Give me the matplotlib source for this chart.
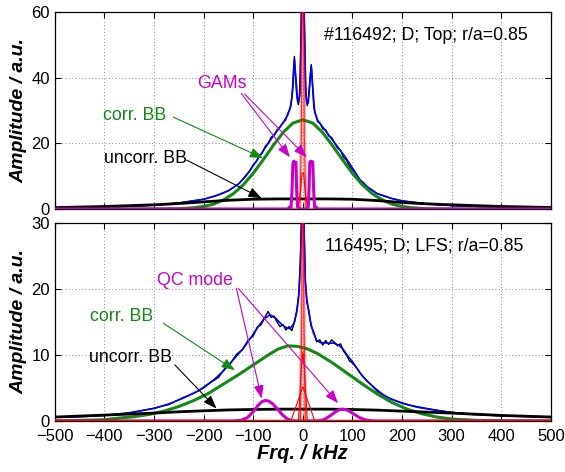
import numpy as np
import matplotlib
matplotlib.use("Agg")
import matplotlib.pyplot as plt

plt.rcParams['font.family'] = ['Liberation Sans', 'DejaVu Sans']

# ---------------- top panel (#116492, Top) ----------------
top_fit_k = [-500, -450, -400, -350, -300, -250, -200, -175, -150, -130,
             -115, -100, -85, -70, -55, -40, -30, -24, -20, -17,
             -14, -11, -9, -6, -4, -2, 0, 2, 4, 6,
             9, 11, 14, 17, 20, 24, 30, 40, 55, 70,
             85, 100, 115, 130, 150, 175, 200, 250, 300, 350,
             400, 450, 500]
top_fit = [0.3, 0.45, 0.6, 0.85, 1.2, 1.8, 3.0, 4.1, 5.6, 7.6,
           10.0, 13.2, 16.6, 20.0, 23.2, 26.2, 28.8, 31.5, 37, 45.5,
           40, 34, 32.5, 35, 50, 64, 70, 62, 50, 35,
           32, 32.5, 38, 43.5, 37, 29.5, 27.0, 25, 22, 19,
           16, 12.5, 9.0, 6.8, 4.7, 3.4, 2.5, 1.6, 1.05, 0.8,
           0.6, 0.5, 0.4]

top_raw_k = [-500, -450, -400, -350, -300, -250, -200, -180, -165, -150,
             -140, -130, -122, -115, -108, -100, -94, -88, -82, -76,
             -70, -64, -58, -52, -46, -40, -35, -30, -26, -22,
             -19, -17, -15, -13, -11, -9, -7, -5, -3, -1,
             1, 3, 5, 7, 9, 11, 13, 15, 17, 19,
             22, 26, 30, 35, 40, 46, 52, 58, 64, 70,
             76, 82, 88, 94, 100, 108, 115, 122, 130, 140,
             150, 165, 180, 200, 250, 300, 350, 400, 450, 500]
top_raw = [0.3, 0.5, 0.6, 0.9, 1.2, 1.9, 3.0, 3.8, 4.6, 5.6,
           6.6, 7.6, 8.9, 10.3, 11.4, 13.5, 14.4, 16.3, 17.0, 19.1,
           20.0, 21.9, 22.4, 24.1, 25.0, 26.4, 27.0, 29.3, 30.5, 34,
           42, 46.5, 41, 36, 33, 31.8, 34, 42, 60, 66,
           66, 58, 40, 33, 31.5, 33.5, 37, 41, 44, 39,
           31, 28.7, 26.6, 26.1, 24.4, 24.2, 22.3, 21.8, 20.1, 18.6,
           17.9, 15.7, 14.9, 13.1, 12.0, 10.5, 8.7, 8.1, 6.6, 5.7,
           4.7, 4.0, 3.2, 2.5, 1.6, 1.1, 0.8, 0.6, 0.5, 0.4]

top_corr_k = [-500, -300, -250, -220, -200, -180, -160, -140, -120, -100,
              -80, -60, -40, -20, 0, 20, 40, 60, 80, 100,
              120, 140, 160, 180, 200, 220, 250, 300, 500]
top_corr = [0, 0, 0.1, 0.4, 0.8, 1.5, 2.8, 4.7, 7.4, 10.9,
            15.0, 19.3, 23.3, 26.2, 27.2, 26.2, 23.3, 19.3, 15.0, 10.9,
            7.4, 4.7, 2.8, 1.5, 0.8, 0.4, 0.1, 0, 0]

unc_k = [-500, -400, -300, -250, -200, -150, -100, -50, 0,
         50, 100, 150, 200, 250, 300, 400, 500]
top_unc = [0.45, 0.8, 1.3, 1.7, 2.2, 2.7, 3.0, 3.1, 3.1,
           3.1, 3.0, 2.6, 2.0, 1.6, 1.3, 0.8, 0.5]

top_gam_k = [-500, -30, -27, -24, -22, -20, -18, -16, -14, -12.5,
             -11, -9, -6, 6, 9, 11, 12.5, 14, 16, 18,
             20, 22, 24, 27, 30, 500]
top_gam = [0, 0, 0.6, 0.3, 5, 14, 14.6, 13.8, 14.3, 6,
           0.8, 0.4, 0, 0, 0.4, 0.8, 6, 14.3, 14.6, 14.2,
           14.4, 5, 0.3, 0.6, 0, 0]

top_red_k = [-500, -6, -3, -1, 1, 3, 6, 500]
top_red = [0, 0, 22, 70, 70, 22, 0, 0]
top_red2_k = [-10, -5, -1.5, 1.5, 5, 10]
top_red2 = [0, 5, 11, 11, 5, 0]

# ---------------- bottom panel (116495, LFS) ----------------
bot_fit_k = [-500, -450, -400, -350, -300, -270, -240, -210, -180, -160,
             -140, -120, -105, -90, -78, -66, -55, -45, -35, -26,
             -18, -12, -8, -5, -3, -1, 1, 3, 5, 8,
             12, 16, 22, 28, 35, 50, 62, 72, 80, 90,
             100, 115, 130, 145, 160, 175, 200, 230, 270, 300,
             340, 400, 450, 500]
bot_fit = [0.6, 0.65, 0.85, 1.25, 1.9, 2.6, 3.5, 4.6, 6.2, 7.6,
           9.3, 11.0, 12.6, 14.3, 15.5, 16.1, 15.6, 14.8, 14.2, 14.0,
           14.8, 16.6, 19.0, 24, 29, 34, 34, 27, 21, 18.5,
           16.5, 14.8, 13.2, 12.2, 11.9, 11.8, 11.8, 11.5, 11.0, 9.9,
           9.0, 7.3, 6.0, 5.0, 4.1, 3.4, 2.7, 2.1, 1.6, 1.3,
           1.05, 0.8, 0.7, 0.65]

bot_raw_k = [-500, -450, -400, -350, -300, -270, -240, -220, -200, -185,
             -170, -158, -146, -134, -122, -110, -100, -92, -84, -76,
             -70, -64, -58, -52, -46, -40, -34, -28, -22, -16,
             -12, -8, -5, -3, -1, 1, 3, 5, 8, 12,
             17, 22, 28, 34, 40, 46, 52, 58, 64, 70,
             76, 82, 88, 94, 100, 110, 120, 135, 150, 170,
             190, 215, 250, 290, 340, 400, 450, 500]
bot_raw = [0.6, 0.7, 0.85, 1.2, 1.95, 2.5, 3.6, 4.2, 5.0, 5.9,
           6.6, 7.9, 8.7, 10.1, 10.8, 12.3, 12.9, 14.2, 14.6, 15.8,
           16.6, 15.7, 15.9, 15.0, 14.3, 14.6, 13.8, 14.3, 13.7, 15.2,
           16.9, 19.5, 24, 30, 34, 34, 28, 21.5, 18.0, 16.8,
           14.3, 13.5, 12.0, 12.3, 11.5, 12.2, 11.6, 12.3, 11.9, 11.4,
           11.7, 10.6, 10.0, 9.1, 8.8, 7.9, 6.8, 5.7, 4.5, 3.6,
           3.0, 2.4, 1.9, 1.4, 1.0, 0.8, 0.7, 0.6]

bot_corr_k = [-500, -450, -400, -370, -340, -310, -280, -250, -220, -190,
              -160, -130, -100, -70, -50, -30, -10, 10, 30, 60,
              90, 120, 150, 180, 210, 240, 270, 300, 350, 400,
              500]
bot_corr = [0.02, 0.1, 0.2, 0.45, 0.65, 1.0, 1.5, 2.2, 3.1, 4.2,
            5.6, 7.0, 8.5, 10.0, 10.9, 11.4, 11.3, 10.9, 10.2, 8.8,
            7.2, 5.6, 4.1, 2.8, 1.8, 1.1, 0.6, 0.3, 0.1, 0.03,
            0]

bot_unc = [0.6, 0.9, 1.2, 1.4, 1.55, 1.68, 1.75, 1.8, 1.8,
           1.8, 1.75, 1.65, 1.5, 1.35, 1.2, 0.85, 0.6]

bot_qc_k = [-500, -140, -125, -112, -100, -90, -82, -76, -70, -62,
            -52, -42, -32, -22, -12, 25, 35, 45, 55, 65,
            73, 80, 88, 96, 105, 115, 125, 138, 150, 500]
bot_qc = [0, 0, 0.1, 0.5, 1.4, 2.4, 2.95, 3.1, 3.05, 2.7,
          1.9, 1.0, 0.35, 0.05, 0, 0, 0.05, 0.3, 0.8, 1.35,
          1.7, 1.8, 1.7, 1.4, 0.95, 0.5, 0.2, 0.03, 0, 0]

bot_red_k = [-500, -5, -2.5, -0.7, 0.7, 2.5, 5, 500]
bot_red = [0, 0, 14, 33, 33, 14, 0, 0]
bot_red2_k = [-9, -3, 0, 3, 9]
bot_red2 = [0, 8, 10.5, 8, 0]
bot_red3_k = [-24, 0, 24]
bot_red3 = [0, 5.2, 0]

freq_ticks = list(range(-500, 501, 100))

GREEN = '#138a13'
MAG = '#cc00cc'
BLUE = '#0000ff'

fig = plt.figure(figsize=(5.65, 4.72), dpi=100)
fig.patch.set_facecolor('white')
ax1 = fig.add_axes([0.097, 0.557, 0.878, 0.4174])
ax2 = fig.add_axes([0.097, 0.108, 0.878, 0.4195])

# top
ax1.plot(top_raw_k, top_raw, color='black', lw=1.0, zorder=2)
ax1.plot(top_fit_k, top_fit, color=BLUE, lw=1.2, zorder=3)
ax1.plot(top_corr_k, top_corr, color=GREEN, lw=2.2, zorder=4)
ax1.plot(unc_k, top_unc, color='black', lw=2.0, zorder=4)
ax1.plot(top_red_k, top_red, color='red', lw=2.5, alpha=0.3, zorder=5)
ax1.plot(top_red_k, top_red, color='red', lw=0.7, alpha=0.8, zorder=5)
ax1.plot(top_red2_k, top_red2, color='red', lw=0.8, zorder=5)
ax1.plot(top_gam_k, top_gam, color=MAG, lw=2.2, zorder=6)

# bottom
ax2.plot(bot_raw_k, bot_raw, color='black', lw=1.0, zorder=2)
ax2.plot(bot_fit_k, bot_fit, color=BLUE, lw=1.2, zorder=3)
ax2.plot(bot_corr_k, bot_corr, color=GREEN, lw=2.2, zorder=4)
ax2.plot(unc_k, bot_unc, color='black', lw=2.0, zorder=4)
ax2.plot(bot_qc_k, bot_qc, color=MAG, lw=2.2, zorder=5)
ax2.plot(bot_red_k, bot_red, color='red', lw=2.5, alpha=0.3, zorder=6)
ax2.plot(bot_red_k, bot_red, color='red', lw=0.8, alpha=0.8, zorder=6)
ax2.plot(bot_red2_k, bot_red2, color='red', lw=0.8, zorder=6)
ax2.plot(bot_red3_k, bot_red3, color='red', lw=0.8, zorder=6)
ax2.plot([-500, 500], [0, 0], color='red', lw=2.2, zorder=6)

for ax in (ax1, ax2):
    ax.set_xlim(-500, 500)
    ax.set_xticks(freq_ticks)
    ax.grid(True, linestyle=(0, (1, 3)), color='0.4', lw=0.6)
    ax.tick_params(direction='in', top=True, right=True, length=4,
                   width=0.8, labelsize=12)
    ax.tick_params(axis='x', pad=6)
    for s in ax.spines.values():
        s.set_linewidth(0.9)
    ax.set_ylabel('Amplitude / a.u.', fontsize=14, fontweight='bold',
                  fontstyle='italic', labelpad=3)

ax1.set_ylim(0, 60)
ax1.set_yticks([0, 20, 40, 60])
ax1.tick_params(labelbottom=False)
ax2.set_ylim(0, 30)
ax2.set_yticks([0, 10, 20, 30])
ax2.set_xlabel('Frq. / kHz', fontsize=14.5, fontweight='bold',
               fontstyle='italic', labelpad=0)

def arrow(ax, tip, start, color):
    ax.annotate('', xy=tip, xytext=start,
                arrowprops=dict(arrowstyle='-|>,head_length=0.8,head_width=0.3',
                                color=color, lw=0.8, mutation_scale=10,
                                shrinkA=0, shrinkB=0), zorder=8)

FS = 12.8
# top annotations
ax1.text(43, 53, '#116492; D; Top; r/a=0.85', fontsize=FS, va='center')
ax1.text(-164, 38.2, 'GAMs', fontsize=FS, color=MAG, ha='center', va='center')
arrow(ax1, (-26, 15.8), (-124, 35.2), MAG)
arrow(ax1, (8, 15.8), (-117, 35.0), MAG)
ax1.text(-339, 28.4, 'corr. BB', fontsize=FS, color=GREEN, ha='center', va='center')
arrow(ax1, (-80, 15.5), (-261, 28.0), GREEN)
ax1.text(-318, 15.4, 'uncorr. BB', fontsize=FS, color='black', ha='center', va='center')
arrow(ax1, (-83, 3.3), (-234, 14.9), 'black')

# bottom annotations
ax2.text(44, 26.5, '116495; D; LFS; r/a=0.85', fontsize=FS, va='center')
ax2.text(-218, 21.3, 'QC mode', fontsize=FS, color=MAG, ha='center', va='center')
arrow(ax2, (-83, 3.4), (-134, 20.1), MAG)
arrow(ax2, (71, 2.7), (-130, 20.1), MAG)
ax2.text(-365, 15.8, 'corr. BB', fontsize=FS, color=GREEN, ha='center', va='center')
arrow(ax2, (-137, 7.7), (-281, 14.8), GREEN)
ax2.text(-347, 9.6, 'uncorr. BB', fontsize=FS, color='black', ha='center', va='center')
arrow(ax2, (-174, 1.9), (-258, 8.5), 'black')

fig.savefig('out.png', dpi=100)
